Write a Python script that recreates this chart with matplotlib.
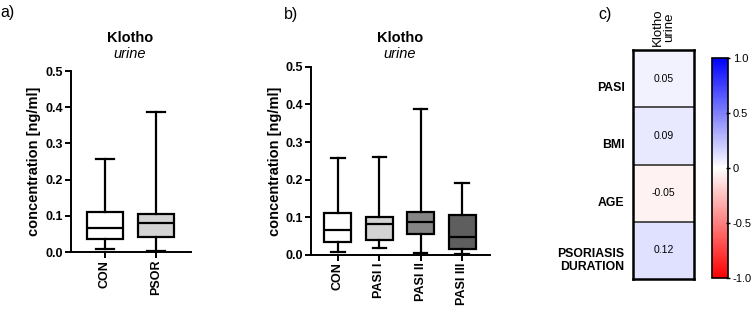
import numpy as np
import matplotlib
matplotlib.use("Agg")
import matplotlib.pyplot as plt
import matplotlib.transforms as mtransforms

plt.rcParams['font.family'] = ['Liberation Sans', 'DejaVu Sans']

# box plot summaries (ng/ml): min, q1, median, q3, max
groups_a = ['CON', 'PSOR']
mins_a = [0.007, 0.003]
q1_a = [0.035, 0.042]
med_a = [0.065, 0.081]
q3_a = [0.111, 0.106]
maxs_a = [0.258, 0.388]
colors_a = ['white', '#d3d3d3']

groups_b = ['CON', 'PASI I', 'PASI II', 'PASI III']
mins_b = [0.007, 0.017, 0.005, 0.003]
q1_b = [0.035, 0.040, 0.056, 0.016]
med_b = [0.065, 0.081, 0.088, 0.048]
q3_b = [0.111, 0.102, 0.115, 0.105]
maxs_b = [0.258, 0.260, 0.388, 0.190]
colors_b = ['white', '#d3d3d3', '#858585', '#5e5e5e']

# correlation heatmap
corr_rows = ['PASI', 'BMI', 'AGE', 'PSORIASIS\nDURATION']
corr_vals = [0.05, 0.09, -0.05, 0.12]
corr_col = 'Klotho\nurine'


def box_panel(ax, groups, mins, q1, med, q3, maxs, colors, width):
    stats = []
    for g, lo, a, m, b, hi in zip(groups, mins, q1, med, q3, maxs):
        stats.append(dict(label=g, whislo=lo, q1=a, med=m, q3=b, whishi=hi, fliers=[]))
    pos = np.arange(len(groups))
    bp = ax.bxp(stats, positions=pos, widths=width, capwidths=width * 0.5,
                patch_artist=True, showfliers=False,
                boxprops=dict(linewidth=1.6, edgecolor='black'),
                medianprops=dict(color='black', linewidth=1.6),
                whiskerprops=dict(linewidth=1.6),
                capprops=dict(linewidth=1.6))
    for patch, c in zip(bp['boxes'], colors):
        patch.set_facecolor(c)
    ax.set_ylim(0, 0.5)
    ax.set_yticks([0, 0.1, 0.2, 0.3, 0.4, 0.5])
    ax.set_yticklabels(['0.0', '0.1', '0.2', '0.3', '0.4', '0.5'],
                       fontweight='bold', fontsize=9)
    ax.set_xticks(pos)
    ax.set_xticklabels(groups, rotation=90, fontweight='bold', fontsize=9)
    ax.spines['top'].set_visible(False)
    ax.spines['right'].set_visible(False)
    ax.spines['left'].set_linewidth(1.4)
    ax.spines['bottom'].set_linewidth(1.4)
    ax.tick_params(width=1.4, length=4, pad=1.5)
    ax.set_ylabel('concentration [ng/ml]', fontweight='bold', fontsize=10.5, labelpad=3)


fig = plt.figure(figsize=(7.53, 3.17), dpi=100)

ax_a = fig.add_axes([0.0939, 0.205, 0.160, 0.571])
box_panel(ax_a, groups_a, mins_a, q1_a, med_a, q3_a, maxs_a, colors_a, 0.7)
ax_a.set_xlim(-0.67, 1.69)

ax_b = fig.add_axes([0.413, 0.196, 0.238, 0.593])
box_panel(ax_b, groups_b, mins_b, q1_b, med_b, q3_b, maxs_b, colors_b, 0.65)
ax_b.set_xlim(-0.65, 3.68)

# titles
fig.text(130 / 753, 1 - 38 / 317, 'Klotho', ha='center', va='center', fontweight='bold', fontsize=10.5)
fig.text(130 / 753, 1 - 54 / 317, 'urine', ha='center', va='center', fontstyle='italic', fontsize=10.5)
fig.text(400 / 753, 1 - 38 / 317, 'Klotho', ha='center', va='center', fontweight='bold', fontsize=10.5)
fig.text(400 / 753, 1 - 54 / 317, 'urine', ha='center', va='center', fontstyle='italic', fontsize=10.5)

fig.text(0 / 753, 1 - 13 / 317, 'a)', ha='left', va='center', fontsize=11.5)
fig.text(284 / 753, 1 - 15 / 317, 'b)', ha='left', va='center', fontsize=11.5)
fig.text(598 / 753, 1 - 15 / 317, 'c)', ha='left', va='center', fontsize=11.5)

# heatmap
ax_c = fig.add_axes([0.8406, 0.12, 0.081, 0.722])
data = np.array(corr_vals).reshape(-1, 1)
im = ax_c.imshow(data, cmap='bwr_r', vmin=-1, vmax=1, aspect='auto')
for i, v in enumerate(corr_vals):
    ax_c.text(0, i, f'{v:.2f}', ha='center', va='center', fontsize=7.5)
for i in range(1, len(corr_vals)):
    ax_c.axhline(i - 0.5, color='#333333', linewidth=1.2)
ax_c.set_xticks([0])
ax_c.set_xticklabels([corr_col], rotation=90, fontsize=9.5, linespacing=0.95)
ax_c.xaxis.tick_top()
ax_c.set_yticks(range(len(corr_rows)))
ax_c.set_yticklabels(corr_rows, fontweight='bold', fontsize=8.8, linespacing=1.1)
ax_c.tick_params(length=0, pad=6)
ax_c.tick_params(axis='x', pad=3)
# row labels sit a bit below the cell centres
shift = mtransforms.ScaledTranslation(0, -0.08, fig.dpi_scale_trans)
for lab in ax_c.get_yticklabels():
    lab.set_transform(lab.get_transform() + shift)
for s in ax_c.spines.values():
    s.set_linewidth(1.8)

cax = fig.add_axes([0.9456, 0.123, 0.0212, 0.694])
cb = fig.colorbar(im, cax=cax, ticks=[-1, -0.5, 0, 0.5, 1])
cb.ax.set_yticklabels(['-1.0', '-0.5', '0', '0.5', '1.0'], fontsize=8)
cb.ax.tick_params(length=3, width=1, direction='inout', pad=2)
cb.outline.set_linewidth(1.2)

fig.savefig('out.png', dpi=100)
